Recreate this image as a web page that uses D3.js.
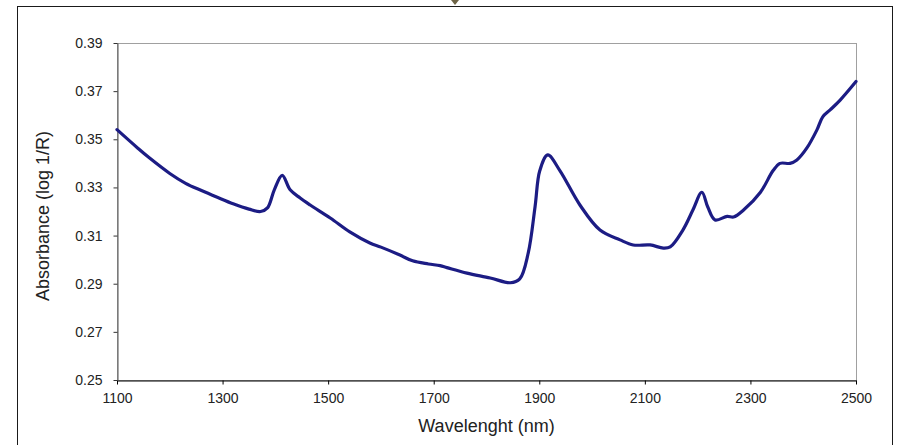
<!DOCTYPE html>
<html>
<head>
<meta charset="utf-8">
<script src="https://cdn.jsdelivr.net/npm/d3@7"></script>
<style>
  body { margin: 0; background: #fff; }
  svg { display: block; font-family: "Liberation Sans", Arial, sans-serif; }
</style>
</head>
<body>
<div id="chart"></div>
<script>
// spectrum
var wavelength = [1100, 1140, 1160, 1200, 1230, 1260, 1290, 1320, 1350, 1372, 1385, 1398, 1413, 1428, 1447, 1466,
  1504, 1541, 1579, 1600, 1636, 1660, 1690, 1712, 1725, 1763, 1807, 1845, 1863, 1879, 1892, 1901, 1916, 1939,
  1977, 2015, 2053, 2078, 2110, 2135, 2148, 2172, 2191, 2208, 2219, 2233, 2256, 2268, 2287, 2319, 2343, 2356,
  2375, 2388, 2407, 2426, 2437, 2451, 2470, 2500];
var absorbance = [0.3540, 0.3462, 0.3425, 0.3358, 0.3317, 0.3287, 0.3259, 0.3232, 0.3210, 0.3200, 0.3215, 0.3290,
  0.3350, 0.3290, 0.3256, 0.3227, 0.3173, 0.3115, 0.3069, 0.3052, 0.3019, 0.2995, 0.2982, 0.2975, 0.2967, 0.2944,
  0.2924, 0.2904, 0.2920, 0.3027, 0.3220, 0.3370, 0.3435, 0.3370, 0.3227, 0.3123, 0.3082, 0.3061, 0.3061, 0.3048,
  0.3053, 0.3123, 0.3206, 0.3280, 0.3220, 0.3165, 0.3180, 0.3177, 0.3206, 0.3280, 0.3370, 0.3400, 0.3400, 0.3414,
  0.3464, 0.3539, 0.3593, 0.3622, 0.3663, 0.3740];
var xTicks = [1100, 1300, 1500, 1700, 1900, 2100, 2300, 2500];
var yTicks = [0.25, 0.27, 0.29, 0.31, 0.33, 0.35, 0.37, 0.39];

var width = 897, height = 445;
var plotLeft = 117, plotRight = 856, plotTop = 43, plotBottom = 380;

var svg = d3.select("#chart").append("svg")
  .attr("width", width)
  .attr("height", height);

// outer chart frame
svg.append("rect")
  .attr("x", 17.5).attr("y", 6.5)
  .attr("width", 875).attr("height", 445)
  .attr("fill", "#fff")
  .attr("stroke", "#1a1a1a");

svg.append("path")
  .attr("d", "M451,0 L459,0 L455,5 Z")
  .attr("fill", "#6e6446");

var x = d3.scaleLinear().domain([1100, 2500]).range([plotLeft, plotRight]);
var y = d3.scaleLinear().domain([0.25, 0.39]).range([plotBottom, plotTop]);

// plot area border
svg.append("rect")
  .attr("x", plotLeft + 0.5).attr("y", plotTop + 0.5)
  .attr("width", plotRight - plotLeft).attr("height", plotBottom - plotTop)
  .attr("fill", "none")
  .attr("stroke", "#a0a0a0");

var xAxis = svg.append("g")
  .attr("transform", "translate(0," + (plotBottom + 0.5) + ")")
  .call(d3.axisBottom(x).tickValues(xTicks).tickSize(4).tickSizeOuter(0).tickFormat(d3.format("d")));
xAxis.attr("font-size", null).attr("font-family", null);
xAxis.select(".domain").attr("stroke", "#000");
xAxis.selectAll(".tick line").attr("stroke", "#000");
xAxis.selectAll("text")
  .attr("y", 13)
  .style("font-size", "14px")
  .attr("fill", "#222");

var yAxis = svg.append("g")
  .attr("transform", "translate(" + (plotLeft + 0.5) + ",0)")
  .call(d3.axisLeft(y).tickValues(yTicks).tickSize(4).tickSizeOuter(0).tickFormat(d3.format(".2f")));
yAxis.attr("font-size", null).attr("font-family", null);
yAxis.select(".domain").attr("stroke", "#555");
yAxis.selectAll(".tick line").attr("stroke", "#333");
yAxis.selectAll("text")
  .attr("x", -15)
  .style("font-size", "14px")
  .attr("fill", "#222");

var points = wavelength.map(function (w, i) { return [w, absorbance[i]]; });

var line = d3.line()
  .x(function (d) { return x(d[0]); })
  .y(function (d) { return y(d[1]); })
  .curve(d3.curveCatmullRom.alpha(0.5));

svg.append("path")
  .datum(points)
  .attr("d", line)
  .attr("fill", "none")
  .attr("stroke", "#1c1c84")
  .attr("stroke-width", 3.2)
  .attr("stroke-linejoin", "round")
  .attr("stroke-linecap", "round");

svg.append("text")
  .attr("x", (plotLeft + plotRight) / 2)
  .attr("y", 432)
  .attr("text-anchor", "middle")
  .attr("font-size", "18px")
  .attr("fill", "#222")
  .text("Wavelenght (nm)");

svg.append("text")
  .attr("transform", "translate(49,216) rotate(-90)")
  .attr("text-anchor", "middle")
  .attr("font-size", "18px")
  .attr("fill", "#222")
  .text("Absorbance (log 1/R)");
</script>
</body>
</html>
